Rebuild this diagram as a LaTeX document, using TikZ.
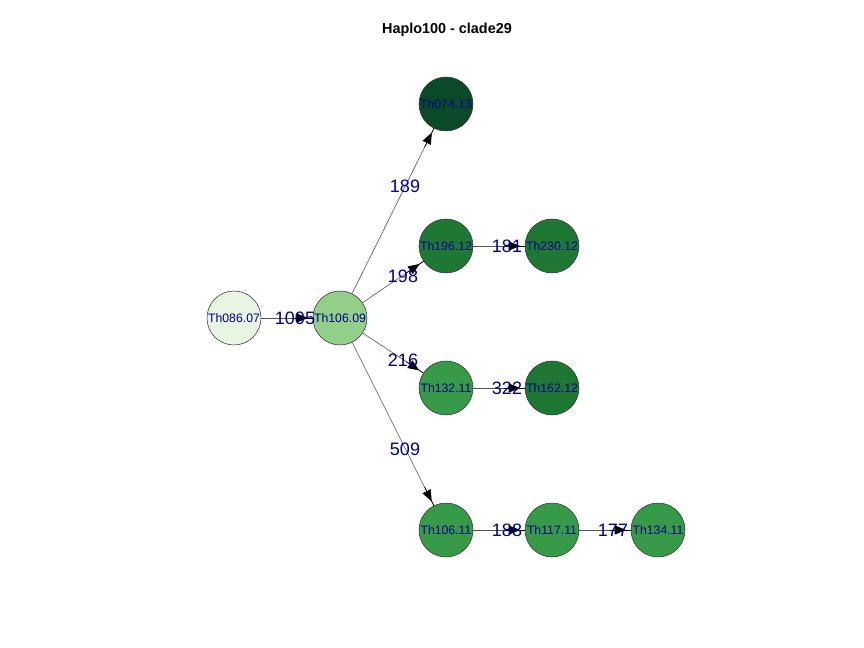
\documentclass[tikz,border=0pt]{standalone}
\usepackage{fontspec}
\setmainfont{Liberation Sans}
\usetikzlibrary{arrows.meta,calc}
\definecolor{lab}{RGB}{0,0,139}
\definecolor{c1}{RGB}{232,245,227}
\definecolor{c2}{RGB}{146,208,138}
\definecolor{c3}{RGB}{11,74,41}
\definecolor{c4}{RGB}{31,119,52}
\definecolor{c5}{RGB}{55,154,72}
\definecolor{edgec}{RGB}{85,85,85}
\tikzset{
  vtx/.style={circle,draw=black!80,line width=0.4pt,minimum size=40.5pt,inner sep=0pt,
    text=lab,font=\fontsize{9.2pt}{10pt}\selectfont},
  elab/.style={text=lab,font=\fontsize{13.5pt}{14pt}\selectfont,inner sep=0pt},
  eline/.style={draw=edgec,line width=0.45pt},
  ahead/.style={draw=black,line width=0.5pt,-{Triangle[length=8.5pt,width=6.8pt]}},
}
\newcommand{\arr}[2]{%
  \draw[eline] (#1) -- (#2);
  \draw[ahead] ($(#2.center)!36pt!(#1.center)$) -- ($(#2.center)!24pt!(#1.center)$);
  \draw[black,line width=0.5pt] ($(#2.center)!24.5pt!(#1.center)$) -- ($(#2.center)!20.25pt!(#1.center)$);
}
\begin{document}
\begin{tikzpicture}[x=0.75pt,y=-0.75pt]
\useasboundingbox[fill=white] (0,0) rectangle (864,648);
\node[font=\bfseries\fontsize{10.8pt}{12pt}\selectfont] (title) at (447,30) {Haplo100 - clade29};
\coordinate (pA) at (234,318);
\coordinate (pB) at (340,318);
\coordinate (pC) at (446,104);
\coordinate (pD) at (446,246);
\coordinate (pE) at (552,246);
\coordinate (pF) at (446,388);
\coordinate (pG) at (552,388);
\coordinate (pH) at (446,530);
\coordinate (pI) at (552,530);
\coordinate (pJ) at (658,530);
\path (pA) node[vtx,draw=none,fill=none] (A) {}
      (pB) node[vtx,draw=none,fill=none] (B) {}
      (pC) node[vtx,draw=none,fill=none] (C) {}
      (pD) node[vtx,draw=none,fill=none] (D) {}
      (pE) node[vtx,draw=none,fill=none] (E) {}
      (pF) node[vtx,draw=none,fill=none] (F) {}
      (pG) node[vtx,draw=none,fill=none] (G) {}
      (pH) node[vtx,draw=none,fill=none] (H) {}
      (pI) node[vtx,draw=none,fill=none] (I) {}
      (pJ) node[vtx,draw=none,fill=none] (J) {};
\arr{A}{B}
\arr{B}{C}
\arr{B}{D}
\arr{D}{E}
\arr{B}{F}
\arr{F}{G}
\arr{B}{H}
\arr{H}{I}
\arr{I}{J}
\node[vtx,fill=c1] (vA) at (pA) {Th086.07};
\node[vtx,fill=c2] (vB) at (pB) {Th106.09};
\node[vtx,fill=c3] (vC) at (pC) {Th074.13};
\node[vtx,fill=c4] (vD) at (pD) {Th196.12};
\node[vtx,fill=c4] (vE) at (pE) {Th230.12};
\node[vtx,fill=c5] (vF) at (pF) {Th132.11};
\node[vtx,fill=c4] (vG) at (pG) {Th162.12};
\node[vtx,fill=c5] (vH) at (pH) {Th106.11};
\node[vtx,fill=c5] (vI) at (pI) {Th117.11};
\node[vtx,fill=c5] (vJ) at (pJ) {Th134.11};
\node[elab] (lAB) at (295,318) {1005};
\node[elab] (lBC) at (405,186) {189};
\node[elab] (lBD) at (403,276) {198};
\node[elab] (lDE) at (507,246) {181};
\node[elab] (lBF) at (403,360) {216};
\node[elab] (lFG) at (507,388) {322};
\node[elab] (lBH) at (405,449) {509};
\node[elab] (lHI) at (507,530) {188};
\node[elab] (lIJ) at (613,530) {177};
\end{tikzpicture}
\end{document}
